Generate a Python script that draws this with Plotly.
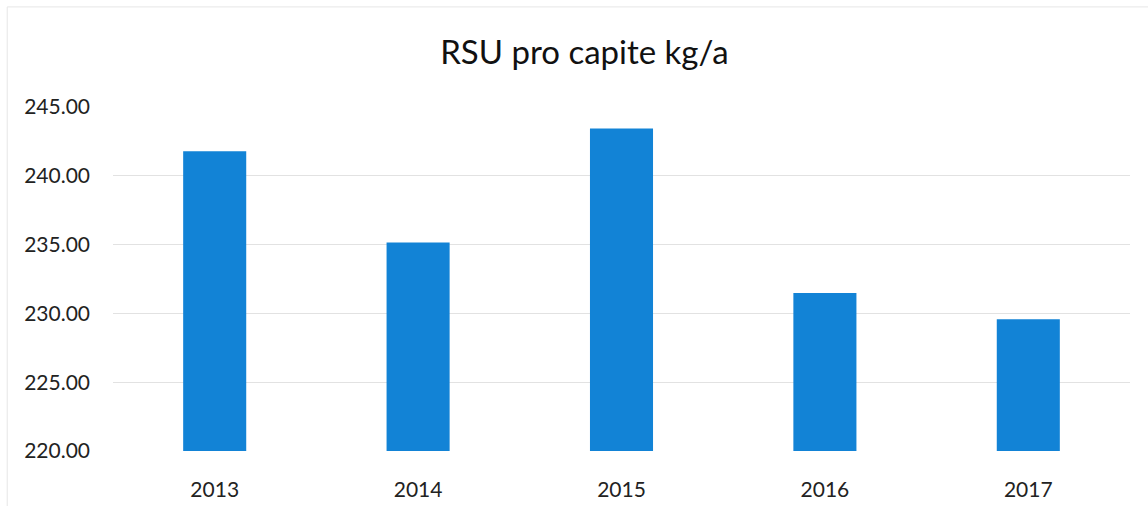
import plotly.graph_objects as go

# Municipal solid waste per capita (kg/year)
years = ["2013", "2014", "2015", "2016", "2017"]
rsu_kg = [241.78, 235.16, 243.43, 231.48, 229.58]
y_ticks = [220, 225, 230, 235, 240, 245]
y_tick_labels = [f"{v:.2f}" for v in y_ticks]

FONT = "Lato, 'Open Sans', sans-serif"

fig = go.Figure(
    go.Bar(
        x=years,
        y=rsu_kg,
        marker=dict(color="#1283d6", line=dict(width=0)),
    )
)

fig.update_layout(
    width=1148,
    height=506,
    margin=dict(l=113, r=18, t=107, b=55, autoexpand=False),
    paper_bgcolor="white",
    plot_bgcolor="white",
    bargap=0.69,
    showlegend=False,
    font=dict(family=FONT, color="#222222", size=21),
    title=dict(
        text="RSU pro capite kg/a",
        x=0.509,
        xanchor="center",
        y=0.897,
        yanchor="middle",
        font=dict(family=FONT, size=33, color="#111111"),
    ),
    shapes=[
        dict(type="line", xref="paper", yref="paper", x0=-0.104, x1=1.02,
             y0=1.291, y1=1.291, line=dict(color="#e6e6e6", width=1)),
        dict(type="line", xref="paper", yref="paper", x0=-0.104, x1=-0.104,
             y0=-0.2, y1=1.291, line=dict(color="#e6e6e6", width=1)),
    ],
)

fig.update_yaxes(
    range=[220, 245],
    tickvals=y_ticks,
    ticktext=y_tick_labels,
    showgrid=True,
    gridcolor="#e2e2e2",
    gridwidth=1,
    zeroline=False,
    showline=False,
    ticks="",
    automargin=False,
    ticklabelstandoff=22,
    tickfont=dict(size=21, family=FONT),
)

fig.update_xaxes(
    showgrid=False,
    showline=False,
    ticks="",
    automargin=False,
    ticklabelstandoff=24,
    tickfont=dict(size=21, family=FONT),
)

fig.write_html("out.html")
